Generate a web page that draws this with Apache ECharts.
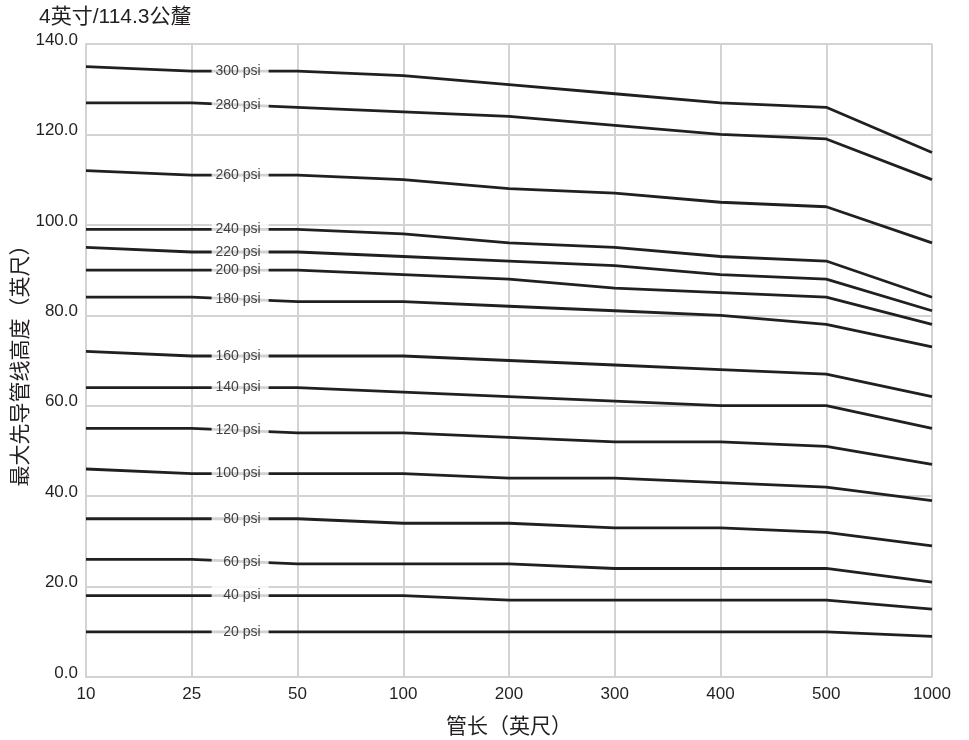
<!DOCTYPE html>
<html>
<head>
<meta charset="utf-8">
<script src="https://cdn.jsdelivr.net/npm/echarts@6/dist/echarts.min.js"></script>
<style>
html,body{margin:0;padding:0;background:#fff;}
#chart{width:969px;height:740px;}
</style>
</head>
<body>
<div id="chart"></div>
<script>
var categories = ['10', '25', '50', '100', '200', '300', '400', '500', '1000'];
var seriesNames = ['300 psi', '280 psi', '260 psi', '240 psi', '220 psi', '200 psi', '180 psi', '160 psi', '140 psi', '120 psi', '100 psi', '80 psi', '60 psi', '40 psi', '20 psi'];
var psi300 = [135, 134, 134, 133, 131, 129, 127, 126, 116];
var psi280 = [127, 127, 126, 125, 124, 122, 120, 119, 110];
var psi260 = [112, 111, 111, 110, 108, 107, 105, 104, 96];
var psi240 = [99, 99, 99, 98, 96, 95, 93, 92, 84];
var psi220 = [95, 94, 94, 93, 92, 91, 89, 88, 81];
var psi200 = [90, 90, 90, 89, 88, 86, 85, 84, 78];
var psi180 = [84, 84, 83, 83, 82, 81, 80, 78, 73];
var psi160 = [72, 71, 71, 71, 70, 69, 68, 67, 62];
var psi140 = [64, 64, 64, 63, 62, 61, 60, 60, 55];
var psi120 = [55, 55, 54, 54, 53, 52, 52, 51, 47];
var psi100 = [46, 45, 45, 45, 44, 44, 43, 42, 39];
var psi80 = [35, 35, 35, 34, 34, 33, 33, 32, 29];
var psi60 = [26, 26, 25, 25, 25, 24, 24, 24, 21];
var psi40 = [18, 18, 18, 18, 17, 17, 17, 17, 15];
var psi20 = [10, 10, 10, 10, 10, 10, 10, 10, 9];
var seriesValues = [psi300, psi280, psi260, psi240, psi220, psi200, psi180, psi160, psi140, psi120, psi100, psi80, psi60, psi40, psi20];
var yTicks = [0, 20, 40, 60, 80, 100, 120, 140];

var FONT = '"Liberation Sans", Arial, "Noto Sans CJK SC", sans-serif';
var LINE = '#231f20';
var GRID = '#d3d3d3';

var series = [];
seriesValues.forEach(function (vals, si) {
  series.push({
    name: seriesNames[si],
    type: 'line',
    data: vals.map(function (v, i) { return [i, v]; }),
    symbol: 'none',
    lineStyle: { color: LINE, width: 2.8 },
    z: 2,
    silent: true,
    animation: false
  });
});
// label markers placed midway between the 2nd and 3rd categories
series.push({
  type: 'scatter',
  symbolSize: 0,
  z: 10,
  silent: true,
  animation: false,
  data: seriesValues.map(function (vals, si) {
    return { value: [1.5, (vals[1] + vals[2]) / 2], name: seriesNames[si] };
  }),
  label: {
    show: true,
    position: 'inside',
    formatter: function (p) { return p.name; },
    align: 'right',
    verticalAlign: 'middle',
    offset: [24, 0],
    width: 48,
    lineHeight: 16,
    padding: [3, 8, 3, 1],
    backgroundColor: '#ffffff',
    color: '#111111',
    textBorderWidth: 0,
    textBorderColor: 'transparent',
    fontSize: 14,
    fontFamily: FONT
  }
});

var chart = echarts.init(document.getElementById('chart'), null, { renderer: 'canvas' });
chart.setOption({
  animation: false,
  backgroundColor: '#ffffff',
  title: {
    text: '4英寸/114.3公釐',
    left: 34,
    top: 2,
    textStyle: { fontSize: 21, fontWeight: 'normal', color: '#231f20', fontFamily: FONT }
  },
  grid: { left: 86, right: 37, top: 44, bottom: 63, containLabel: false, outerBoundsMode: 'none' },
  xAxis: {
    type: 'value',
    min: 0,
    max: categories.length - 1,
    interval: 1,
    name: '管长（英尺）',
    nameLocation: 'middle',
    nameGap: 40,
    nameMoveOverlap: false,
    nameTextStyle: { fontSize: 21, color: '#231f20', fontFamily: FONT },
    axisLine: { show: true, lineStyle: { color: GRID, width: 2 } },
    axisTick: { show: false },
    axisLabel: {
      formatter: function (v) { return categories[Math.round(v)]; },
      fontSize: 17, color: '#231f20', fontFamily: FONT, margin: 9
    },
    splitLine: { show: true, lineStyle: { color: GRID, width: 2 } }
  },
  yAxis: {
    type: 'value',
    min: yTicks[0],
    max: yTicks[yTicks.length - 1],
    interval: 20,
    name: '最大先导管线高度（英尺）',
    nameLocation: 'middle',
    nameGap: 54,
    nameMoveOverlap: false,
    nameTextStyle: { fontSize: 21, color: '#231f20', fontFamily: FONT },
    axisLine: { show: true, lineStyle: { color: GRID, width: 2 } },
    axisTick: { show: false },
    axisLabel: {
      formatter: function (v) { return v.toFixed(1); },
      fontSize: 17, color: '#231f20', fontFamily: FONT, margin: 8,
      verticalAlign: 'bottom',
      lineHeight: 8
    },
    splitLine: { show: true, lineStyle: { color: GRID, width: 2 } }
  },
  series: series
});
</script>
</body>
</html>
